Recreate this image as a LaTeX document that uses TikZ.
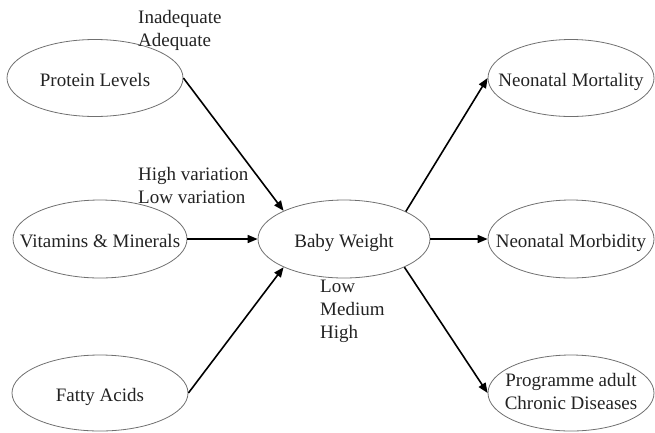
\documentclass[tikz,border=0pt]{standalone}
\usepackage{fontspec}
\setmainfont{Liberation Serif}
\usetikzlibrary{arrows.meta,shapes.geometric}
\definecolor{txt}{HTML}{222222}
\definecolor{edge}{HTML}{707070}
\newcommand{\ovaltxt}[1]{\makebox[0pt]{\begin{tabular}{@{}c@{}}#1\end{tabular}}}
\newcommand{\ovalone}[1]{\makebox[0pt]{\raisebox{-8pt}[0pt][0pt]{\begin{tabular}{@{}c@{}}#1\end{tabular}}}}
\tikzset{
  oval/.style={ellipse, draw=edge, line width=0.8pt, inner sep=0pt, text=txt,
    font=\fontsize{19}{23}\selectfont},
  lbl/.style={anchor=base west, inner sep=0pt, align=left, text=txt, font=\fontsize{19}{23}\selectfont},
  arr/.style={line width=1.6pt, black, -{Triangle[length=10pt,width=8pt]}}
}
\begin{document}
\begin{tikzpicture}[x=1pt,y=-1pt]
\useasboundingbox (0,0) rectangle (655,432);
\node[oval, minimum width=176pt, minimum height=77pt] (prot) at (95,78) {\ovalone{Protein Levels}};
\node[oval, minimum width=174pt, minimum height=78pt] (vit) at (100,239) {\ovalone{Vitamins \& Minerals}};
\node[oval, minimum width=176pt, minimum height=76pt] (fat) at (100,393) {\ovalone{Fatty Acids}};
\node[oval, minimum width=172pt, minimum height=78pt] (baby) at (344,239) {\ovalone{Baby Weight}};
\node[oval, minimum width=166pt, minimum height=77pt] (mort) at (571,78) {\ovalone{Neonatal Mortality}};
\node[oval, minimum width=166pt, minimum height=78pt] (morb) at (571,239) {\ovalone{Neonatal Morbidity}};
\node[oval, minimum width=166pt, minimum height=76pt] (prog) at (571,393) {\ovaltxt{Programme adult\\Chronic Diseases}};
\node[lbl] (l1) at (138,46) {Inadequate\\Adequate};
\node[lbl] (l2) at (138,203) {High variation\\Low variation};
\node[lbl] (l3) at (320,338) {Low\\Medium\\High};
\draw[arr] (prot.east) -- (baby.155);
\draw[arr] (vit.east) -- (baby.west);
\draw[arr] (fat.east) -- (baby.205);
\draw[arr] (baby.24) -- (mort.west);
\draw[arr] (baby.east) -- (morb.west);
\draw[arr] (baby.-25) -- (prog.west);
\end{tikzpicture}
\end{document}
